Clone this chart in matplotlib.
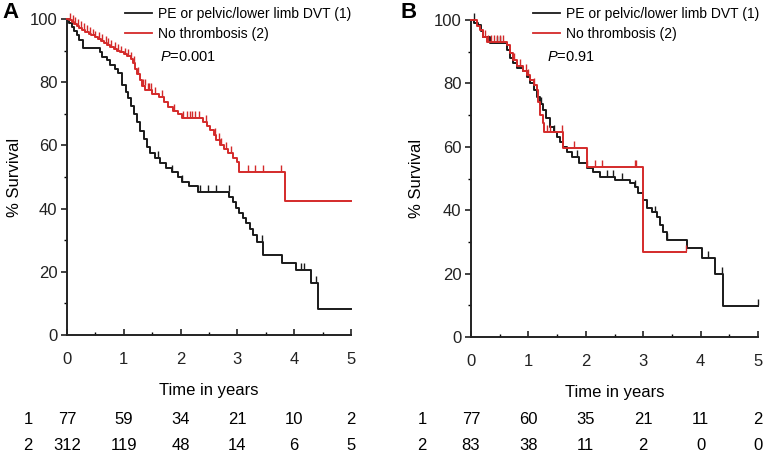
import numpy as np
import matplotlib
matplotlib.use('Agg')
import matplotlib.pyplot as plt
from matplotlib.lines import Line2D
from matplotlib.ticker import MultipleLocator
import matplotlib.transforms as mtrans

plt.rcParams['font.family'] = ['Liberation Sans', 'DejaVu Sans']
plt.rcParams['font.size'] = 12
plt.rcParams['mathtext.fontset'] = 'custom'
plt.rcParams['mathtext.it'] = 'Liberation Sans:italic'

RED = '#d42a2a'
BLACK = '#1a1a1a'

# panel A, group 1 (PE or pelvic/lower limb DVT)
a1_t = [0, 0.04, 0.08, 0.12, 0.17, 0.22, 0.28, 0.58, 0.62, 0.70, 0.76, 0.84, 0.90, 0.97,
        1.03, 1.08, 1.13, 1.18, 1.23, 1.29, 1.35, 1.41, 1.46, 1.55, 1.64, 1.75, 1.85, 1.95,
        2.02, 2.15, 2.31, 2.86, 2.92, 2.97, 3.03, 3.10, 3.16, 3.22, 3.28, 3.34, 3.45, 3.78,
        4.04, 4.30, 4.42]
a1_s = [100, 98.7, 97.4, 96.1, 94.8, 93.5, 90.8, 89.5, 88.0, 86.9, 85.6, 84.3, 83.0, 79.0,
        77.0, 75.0, 72.5, 70.0, 67.5, 64.5, 62.0, 59.5, 57.6, 56.0, 54.4, 53.0, 51.5, 50.0,
        48.4, 47.0, 45.2, 43.8, 42.0, 40.3, 38.6, 37.0, 35.3, 33.6, 31.5, 29.4, 25.3, 22.8,
        20.6, 16.5, 8.2]
a1_cens = [1.6, 1.85, 2.02, 2.34, 2.48, 2.62, 2.85, 3.43, 4.12, 4.17, 4.38]

# panel A, group 2 (no thrombosis)
a2_t = [0, 0.03, 0.08, 0.12, 0.17, 0.22, 0.27, 0.32, 0.38, 0.43, 0.49, 0.55, 0.60, 0.65,
        0.70, 0.76, 0.82, 0.88, 0.94, 1.00, 1.06, 1.12, 1.16, 1.20, 1.24, 1.28, 1.32, 1.38,
        1.50, 1.62, 1.70, 1.78, 1.86, 1.95, 2.02, 2.40, 2.47, 2.52, 2.58, 2.63, 2.70, 2.77,
        2.84, 2.92, 2.99, 3.02, 3.84]
a2_s = [100, 99.7, 99.0, 98.4, 97.8, 97.2, 96.5, 96.0, 95.4, 94.8, 94.2, 93.6, 93.0, 92.4,
        91.8, 91.2, 90.6, 90.0, 89.4, 88.8, 88.2, 87.5, 86.0, 84.3, 82.6, 80.8, 78.8, 77.5,
        76.4, 75.3, 73.8, 72.3, 71.0, 69.8, 68.7, 67.5, 66.0, 64.8, 63.2, 61.7, 60.2, 58.8,
        57.6, 56.0, 54.7, 51.5, 42.4]
a2_cens = [0.05, 0.1, 0.14, 0.2, 0.25, 0.3, 0.35, 0.4, 0.45, 0.5, 0.56, 0.62, 0.68, 0.72,
           0.78, 0.84, 0.9, 0.95, 1.02, 1.08, 1.13, 1.18, 1.25, 1.34, 1.37, 1.42, 1.45, 1.48,
           1.55, 1.68, 1.88, 2.05, 2.12, 2.16, 2.2, 2.25, 2.32, 2.45, 2.6, 2.68, 2.72, 2.8,
           2.88, 3.19, 3.31, 3.45, 3.77]

# panel B, group 1
b1_t = [0, 0.06, 0.12, 0.17, 0.21, 0.33, 0.62, 0.68, 0.74, 0.80, 0.91, 0.97, 1.03, 1.09,
        1.15, 1.20, 1.25, 1.31, 1.38, 1.44, 1.50, 1.55, 1.60, 1.68, 1.76, 1.88, 2.02, 2.12,
        2.25, 2.50, 2.77, 2.86, 2.91, 3.00, 3.07, 3.16, 3.24, 3.29, 3.35, 3.41, 3.76, 4.02,
        4.25, 4.39]
b1_s = [100, 99.2, 98.4, 96.5, 94.6, 92.7, 90.5, 88.0, 86.5, 85.0, 84.0, 82.0, 80.0, 77.8,
        75.7, 73.6, 71.6, 69.0, 66.2, 64.6, 63.0, 61.5, 60.0, 58.4, 56.8, 55.0, 53.3, 51.9,
        50.5, 49.5, 48.6, 47.3, 45.4, 43.2, 40.7, 39.3, 37.9, 35.3, 33.0, 30.6, 28.1, 24.9,
        19.9, 9.8]
b1_cens = [0.05, 0.45, 0.5, 1.22, 1.45, 1.85, 2.37, 2.48, 2.63, 2.86, 3.2, 3.41, 4.13, 4.37, 5.0]

# panel B, group 2
b2_t = [0, 0.10, 0.16, 0.21, 0.28, 0.62, 0.68, 0.74, 0.80, 0.91, 0.97, 1.03, 1.09, 1.15,
        1.17, 1.21, 1.25, 1.27, 1.60, 2.02, 3.00]
b2_s = [100, 98.0, 96.8, 94.6, 93.0, 92.0, 89.5, 87.4, 85.5, 84.0, 82.5, 81.0, 79.5, 78.0,
        74.0, 70.0, 67.5, 64.7, 59.6, 53.6, 26.8]
b2_cens = [0.25, 0.3, 0.35, 0.4, 0.45, 0.5, 0.55, 0.75, 0.85, 0.95, 1.0, 1.1, 1.32, 1.38,
           1.58, 1.79, 2.02, 2.16, 2.28, 2.85, 2.88, 3.75]

a_end = [5.0, 5.0]
b_end = [5.0, 3.75]

risk_a = [[77, 59, 34, 21, 10, 2], [312, 119, 48, 14, 6, 5]]
risk_b = [[77, 60, 35, 21, 11, 2], [83, 38, 11, 2, 0, 0]]
p_a = '0.001'
p_b = '0.91'
legend_labels = ['PE or pelvic/lower limb DVT (1)', 'No thrombosis (2)']


def km_step(ax, t, s, t_end, cens, color):
    tt = list(t) + [t_end]
    ss = list(s) + [s[-1]]
    ax.step(tt, ss, where='post', color=color, lw=1.4, zorder=3, clip_on=False)
    idx = np.searchsorted(t, cens, side='right') - 1
    cy = np.array(s)[idx]
    ax.plot(cens, cy + 1.2, ls='none', marker='|', ms=5, mew=1.0, color=color, zorder=3,
            clip_on=False)


def style_axis(ax):
    ax.set_xlim(0, 5)
    ax.set_ylim(0, 100)
    ax.spines['top'].set_visible(False)
    ax.spines['right'].set_visible(False)
    for sp in ['left', 'bottom']:
        ax.spines[sp].set_linewidth(1.4)
        ax.spines[sp].set_color('#222222')
    ax.set_xticks(range(6))
    ax.set_yticks(range(0, 101, 20))
    ax.yaxis.set_minor_locator(MultipleLocator(10))
    ax.xaxis.set_minor_locator(MultipleLocator(0.5))
    ax.tick_params(axis='both', which='major', labelsize=12, length=4, width=1.2, colors='#222222')
    ax.tick_params(axis='x', which='both', direction='in', pad=12)
    ax.tick_params(axis='y', which='both', direction='out', pad=3)
    ax.tick_params(which='minor', length=2.5, width=1.0)


fig = plt.figure(figsize=(7.66, 4.55), dpi=100)

W, H = 766.0, 455.0
axA = fig.add_axes([67 / W, 1 - 335 / H, (351 - 67) / W, (335 - 19) / H])
axB = fig.add_axes([471 / W, 1 - 337 / H, (758 - 471) / W, (337 - 20) / H])

panels = [
    (axA, [(a1_t, a1_s, a1_cens, BLACK), (a2_t, a2_s, a2_cens, RED)], a_end, p_a, risk_a,
     'A', 2, 22, 125, 160, 28),
    (axB, [(b1_t, b1_s, b1_cens, BLACK), (b2_t, b2_s, b2_cens, RED)], b_end, p_b, risk_b,
     'B', 401, 424, 533, 547, 422),
]

for ax, curves, ends, pval, risk, tag, tagx, ylx, legx, px, rowx in panels:
    style_axis(ax)
    for (t, s, c, col), te in zip(curves, ends):
        km_step(ax, t, s, te, c, col)
    ax.set_xlabel('Time in years', fontsize=12, labelpad=12)
    ax.set_ylabel('% Survival', fontsize=12)
    pos = ax.get_position()
    ax.yaxis.set_label_coords((ylx - pos.x0 * W) / (pos.width * W), 0.5)

    fig.text(tagx / W, 1 - 13 / H, tag, fontsize=16, fontweight='bold', va='center', ha='left')

    handles = [Line2D([], [], color=BLACK, lw=1.3), Line2D([], [], color=RED, lw=1.3)]
    fig.legend(handles, legend_labels, loc='upper left', bbox_to_anchor=(legx / W, 1 - 7 / H),
               frameon=False, fontsize=10, handlelength=1.95, handletextpad=0.4,
               labelspacing=0.4, borderpad=0, borderaxespad=0)

    fig.text(px / W, 1 - 57 / H, r'$\it{P}$=' + pval, fontsize=10.5, va='center', ha='left')

    # numbers at risk, aligned under the time ticks
    trans = mtrans.blended_transform_factory(ax.transData, fig.transFigure)
    for r, (row, yy) in enumerate(zip(risk, [419, 446])):
        fig.text(rowx / W, 1 - yy / H, str(r + 1), fontsize=12, ha='center', va='center')
        for k, v in enumerate(row):
            ax.text(k, 1 - yy / H, str(v), transform=trans, fontsize=12,
                    ha='center', va='center', clip_on=False)

fig.savefig('out.png', dpi=100)
